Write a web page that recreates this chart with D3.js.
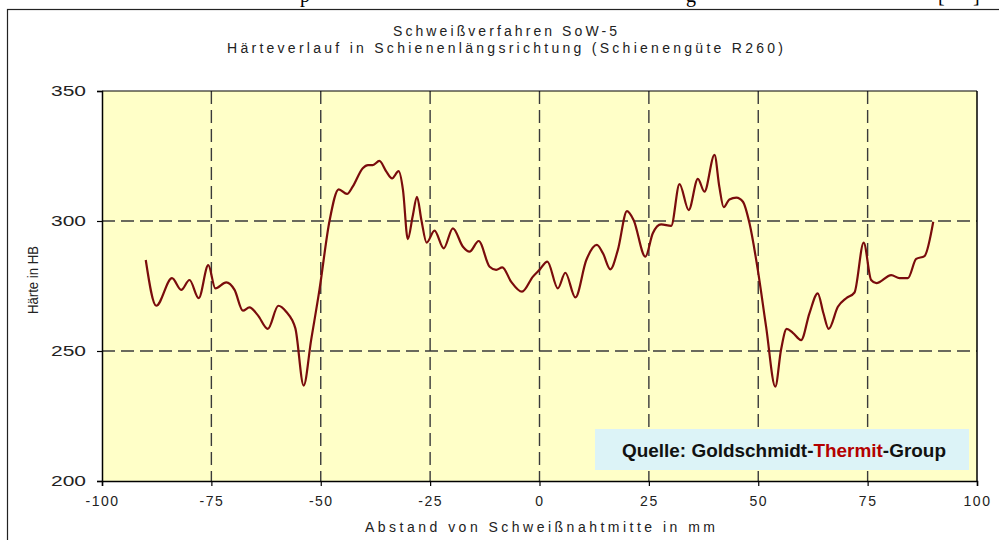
<!DOCTYPE html>
<html>
<head>
<meta charset="utf-8">
<script src="https://cdn.jsdelivr.net/npm/d3@7"></script>
<style>
  body { margin: 0; background: #fff; }
  svg { display: block; font-family: "Liberation Sans", Arial, sans-serif; }
</style>
</head>
<body>
<div id="chart"></div>
<script>
// Abstand von Schweißnahtmitte (mm)
const abstand = [-90, -87.6, -84, -81.9, -80, -77.9, -75.7, -74.1, -71.6, -69.7, -67.8, -66.3, -64.4, -62.1, -59.7, -57.9, -55.8, -53.9, -52.2, -50.3,
  -48, -45.9, -44, -42.7, -40.4, -39.2, -38.1, -36.6, -35, -33.7, -32.2, -31.2, -30.1, -29, -28, -27, -25.8, -24, -21.9, -19.8,
  -17.5, -16, -13.9, -11.4, -9.9, -8.5, -6.5, -4, -1.5, 0, 1.8, 4.2, 5.9, 8.2, 10.7, 13.1, 14.5, 16.2, 17.9, 20,
  21.5, 24.2, 25.9, 27.8, 30.1, 32, 34.1, 36.2, 37.7, 40, 41.1, 42.1, 43.4, 45, 46.5, 48, 49.9, 51.8, 53.9, 55.2,
  56.5, 57.9, 59.8, 61.7, 63.6, 64.9, 66.1, 68.2, 70.1, 72, 74.1, 75.8, 77, 80.4, 82.3, 84.2, 86.1, 88, 90];
// Härte in HB
const haerte = [285, 267.4, 278, 273.5, 277.3, 270.3, 283, 274.1, 276.4, 273.5, 265.5, 266.8, 263.8, 258.5, 267.4, 265.1, 258.7, 236.7, 254.2, 273.5,
  300, 312.2, 310.4, 313.2, 320.3, 321.5, 321.5, 323.1, 319, 316.4, 319.2, 311.9, 293, 301.7, 309.3, 300.4, 291.7, 296.3, 289.5, 297.2,
  290.1, 288.2, 292.3, 282.4, 281.2, 282.2, 276.7, 272.8, 278.6, 281.2, 284.4, 274.1, 280.1, 270.6, 285, 290.8, 287.6, 281.4, 288.8, 303.8,
  300.4, 286.3, 295.3, 298.7, 298.1, 314.2, 304.2, 316.2, 311.3, 325.4, 313.2, 305.3, 308.3, 309, 307.4, 299.1, 281.2, 259.3, 236.3, 250.4,
  258.5, 257, 254.2, 264.5, 272.2, 264.5, 258.5, 267, 270.3, 272.5, 291.7, 277.3, 276.1, 279.2, 278, 278, 285.4, 286.5, 299.7];

const xTicks = [-100, -75, -50, -25, 0, 25, 50, 75, 100];
const yTicks = [200, 250, 300, 350];
const titel = ["Schweißverfahren SoW-5", "Härteverlauf in Schienenlängsrichtung (Schienengüte R260)"];

function main() {
    const W = 999, H = 540;
    const svg = d3.select("#chart").append("svg")
        .attr("width", W)
        .attr("height", H);

    // outer chart frame
    svg.append("rect")
        .attr("x", 7.5).attr("y", 9.5)
        .attr("width", 1000).attr("height", 540)
        .attr("fill", "#fff").attr("stroke", "#222").attr("stroke-width", 1.2);

    // cut off text of the page above (only descenders visible)
    const cut = svg.append("g").attr("font-family", "'Liberation Serif', serif").attr("font-size", 20).attr("fill", "#000");
    cut.append("text").attr("x", 300).attr("y", 2).text("p");
    cut.append("text").attr("x", 686).attr("y", 2).text("g");
    cut.append("text").attr("x", 938).attr("y", 2).text("[");
    cut.append("text").attr("x", 973).attr("y", 2).text("]");

    const x = d3.scaleLinear().domain([-100, 100]).range([102, 977]);
    const y = d3.scaleLinear().domain([200, 350]).range([481, 91]);

    // plot area
    svg.append("rect")
        .attr("x", x(-100)).attr("y", y(350))
        .attr("width", x(100) - x(-100)).attr("height", y(200) - y(350))
        .attr("fill", "#ffffc8");

    // grid
    svg.append("g").selectAll("line")
        .data(yTicks.slice(1, -1))
        .join("line")
        .attr("x1", x(-100)).attr("x2", x(100))
        .attr("y1", d => y(d)).attr("y2", d => y(d))
        .attr("stroke", "#3a3a3a").attr("stroke-width", 1.4)
        .attr("stroke-dasharray", "13,6");
    svg.append("g").selectAll("line")
        .data(xTicks.slice(1, -1))
        .join("line")
        .attr("x1", d => x(d)).attr("x2", d => x(d))
        .attr("y1", y(350)).attr("y2", y(200))
        .attr("stroke", "#3a3a3a").attr("stroke-width", 1.4)
        .attr("stroke-dasharray", "13,6");

    // source box
    const box = svg.append("g");
    box.append("rect")
        .attr("x", 595).attr("y", 429).attr("width", 374).attr("height", 41)
        .attr("fill", "#dcf3f7");
    const q = box.append("text")
        .attr("x", 784).attr("y", 457)
        .attr("text-anchor", "middle")
        .attr("font-size", 18).attr("font-weight", "bold")
        .attr("textLength", 324).attr("lengthAdjust", "spacingAndGlyphs")
        .attr("fill", "#111");
    q.append("tspan").text("Quelle: Goldschmidt-");
    q.append("tspan").attr("fill", "#b40000").text("Thermit");
    q.append("tspan").text("-Group");

    // curve
    const pts = abstand.map((d, i) => [d, haerte[i]]);
    svg.append("path")
        .datum(pts)
        .attr("fill", "none")
        .attr("stroke", "#7a0c0c")
        .attr("stroke-width", 2.2)
        .attr("stroke-linejoin", "round")
        .attr("d", d3.line().x(d => x(d[0])).y(d => y(d[1])).curve(d3.curveMonotoneX));

    // axes (plain hyphen for negative numbers, as in the original)
    const yAxis = svg.append("g")
        .attr("transform", "translate(" + x(-100) + ",0)")
        .call(d3.axisLeft(y).tickValues(yTicks).tickSize(5).tickPadding(11).tickFormat(d => String(d)));
    const xAxis = svg.append("g")
        .attr("transform", "translate(0," + y(200) + ")")
        .call(d3.axisBottom(x).tickValues(xTicks).tickSize(5).tickPadding(10).tickFormat(d => String(d)));
    svg.append("line")
        .attr("x1", x(100)).attr("x2", x(100)).attr("y1", y(350)).attr("y2", y(200))
        .attr("stroke", "#000").attr("stroke-width", 1.5);
    svg.append("line")
        .attr("x1", x(-100)).attr("x2", x(100)).attr("y1", y(350)).attr("y2", y(350))
        .attr("stroke", "#000").attr("stroke-width", 1.2);

    [yAxis, xAxis].forEach(a => {
        a.selectAll(".domain").attr("stroke", "#000").attr("stroke-width", 1.5);
        a.selectAll(".tick line").attr("stroke", "#000").attr("stroke-width", 1.2);
        a.selectAll(".tick text")
            .attr("font-family", "'Liberation Sans', Arial, sans-serif")
            .attr("font-size", 14).attr("fill", "#222")
            .attr("letter-spacing", 1.5);
    });
    yAxis.selectAll(".tick text")
        .attr("font-size", 15)
        .attr("letter-spacing", null)
        .attr("textLength", 35).attr("lengthAdjust", "spacingAndGlyphs");

    // titles
    svg.append("text")
        .attr("x", 505).attr("y", 36)
        .attr("text-anchor", "middle").attr("font-size", 14).attr("fill", "#222")
        .attr("textLength", 224).attr("lengthAdjust", "spacing")
        .text(titel[0]);
    svg.append("text")
        .attr("x", 505).attr("y", 53)
        .attr("text-anchor", "middle").attr("font-size", 14).attr("fill", "#222")
        .attr("textLength", 556).attr("lengthAdjust", "spacing")
        .text(titel[1]);

    svg.append("text")
        .attr("x", 540).attr("y", 532)
        .attr("text-anchor", "middle").attr("font-size", 14).attr("fill", "#222")
        .attr("textLength", 350).attr("lengthAdjust", "spacing")
        .text("Abstand von Schweißnahtmitte in mm");

    svg.append("text")
        .attr("transform", "translate(38,280) rotate(-90)")
        .attr("text-anchor", "middle").attr("font-size", 15).attr("fill", "#222")
        .attr("textLength", 68).attr("lengthAdjust", "spacingAndGlyphs")
        .text("Härte in HB");
}
main();
</script>
</body>
</html>
